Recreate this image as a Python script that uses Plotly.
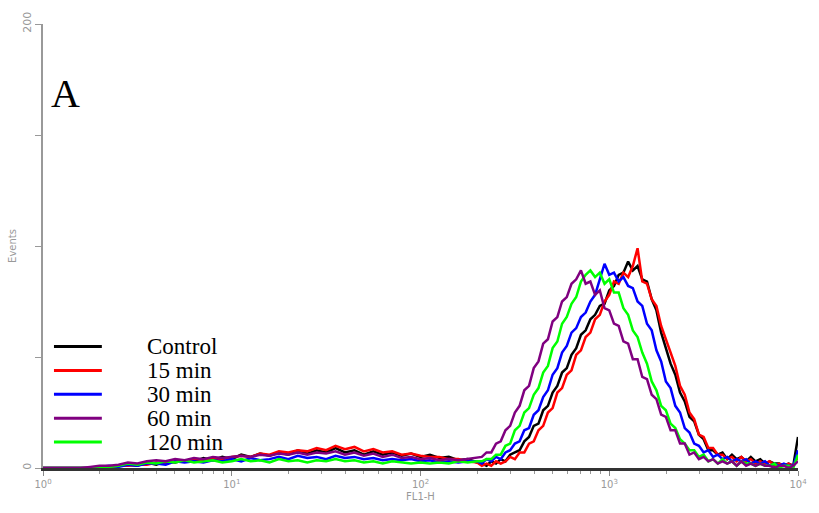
import plotly.graph_objects as go

# ---- bin positions (log10 of fluorescence intensity) ----
log_low = [0.00, 0.05, 0.10, 0.15, 0.20, 0.25, 0.30, 0.35, 0.40, 0.45,
           0.50, 0.55, 0.60, 0.65, 0.70, 0.75, 0.80, 0.85, 0.90, 0.95,
           1.00, 1.05, 1.10, 1.15, 1.20, 1.25, 1.30, 1.35, 1.40, 1.45,
           1.50, 1.55, 1.60, 1.65, 1.70, 1.75, 1.80, 1.85, 1.90, 1.95,
           2.00, 2.05, 2.10, 2.15, 2.20, 2.25, 2.30]
log_peak = [2.325, 2.350, 2.375, 2.400, 2.425, 2.450, 2.475, 2.500, 2.525, 2.550,
            2.575, 2.600, 2.625, 2.650, 2.675, 2.700, 2.725, 2.750, 2.775, 2.800,
            2.825, 2.850, 2.875, 2.900, 2.925, 2.950, 2.975, 3.000, 3.025, 3.050,
            3.075, 3.100, 3.125, 3.150, 3.175, 3.200, 3.225, 3.250, 3.275, 3.300,
            3.325, 3.350, 3.375, 3.400, 3.425, 3.450, 3.475, 3.500, 3.525, 3.550,
            3.575, 3.600, 3.625, 3.650, 3.675, 3.700, 3.725, 3.750, 3.775, 3.800,
            3.825, 3.850, 3.875, 3.900, 3.925, 3.950, 3.975, 4.000]

# ---- event counts per series ----
control_low = [0, 0, 0, 0, 0, 0, 0.5, 0.5, 1, 1.5,
               1, 2.5, 1.5, 3, 2.5, 3.5, 3, 4.5, 3.5, 5,
               4, 6, 5, 6.5, 5.5, 7, 6, 8, 6.5, 8,
               7, 9, 7, 8, 6, 7.5, 6, 7, 5.5, 6.5,
               5, 6, 4.5, 5, 3.5, 4, 2.5]
control_peak = [2, 1, 3, 2, 4, 3, 6, 7, 8, 12,
                14, 19, 20, 26, 28, 34, 37, 43, 45, 51,
                54, 60, 62, 67, 69, 73, 74, 80, 82, 87,
                88, 93, 89, 91, 85, 84, 76, 71, 61, 54,
                47, 42, 34, 30, 23, 21, 15, 13, 8, 8,
                6, 7, 4, 6, 4, 5, 3, 5, 3, 4,
                2, 3, 2, 2, 1, 2, 1,
                14]

m15_low = [0, 0, 0, 0, 0, 0, 0, 0.5, 1, 1,
           1.5, 1.5, 2.5, 2, 3, 3, 4, 3.5, 4.5, 4,
           5, 5.5, 5, 6.5, 6, 7.5, 7, 8, 7.5, 9,
           8, 10, 8.5, 9.5, 7.5, 8.5, 7, 7.5, 6, 6.5,
           5.5, 5, 5, 4, 4, 3, 2.5]
m15_peak = [1, 2, 1, 3, 2, 3, 5, 4, 7, 7,
            11, 12, 17, 19, 25, 27, 34, 36, 42, 44,
            51, 53, 59, 61, 67, 69, 75, 78, 84, 83,
            88, 86, 91, 99, 84, 83, 76, 73, 64, 58,
            51, 46, 37, 33, 25, 22, 15, 14, 9, 9,
            6, 6, 4, 5, 3, 5, 3, 4, 2, 3,
            2, 3, 1, 2, 1, 2, 1,
            5]

m30_low = [0, 0, 0, 0, 0, 0, 0.5, 1, 0.5, 1.5,
           1, 2, 2, 1.5, 3, 2.5, 3, 2.5, 3.5, 3,
           4, 3, 4.5, 3.5, 4, 5, 4, 5.5, 4.5, 5,
           4, 5.5, 4.5, 5, 4, 4.5, 3.5, 4, 3.5, 4,
           3, 3.5, 2.5, 3, 2.5, 3, 3]
m30_peak = [2, 4, 3, 5, 4, 7, 8, 11, 12, 17,
            18, 24, 26, 32, 35, 42, 45, 52, 55, 61,
            63, 68, 70, 75, 78, 85, 92, 87, 88, 84,
            86, 82, 81, 75, 73, 65, 62, 53, 48, 39,
            36, 28, 25, 18, 16, 11, 10, 7, 8, 5,
            6, 4, 5, 3, 4, 3, 4, 2, 3, 2,
            3, 1, 2, 1, 2, 1, 1,
            8]

m60_low = [0, 0, 0, 0, 0, 0.5, 1, 1, 1.5, 2.5,
           2, 3, 3.5, 3, 4, 3.5, 4.5, 4, 5, 4.5,
           5, 5.5, 5, 6, 5.5, 6.5, 6, 7, 6, 7,
           6.5, 7.5, 6, 7, 5.5, 6.5, 5, 6, 4.5, 5,
           4, 4.5, 3.5, 4, 3.5, 4, 4.5]
m60_peak = [5, 7, 7, 11, 12, 17, 19, 25, 28, 35,
            37, 45, 48, 56, 58, 66, 68, 75, 77, 83,
            85, 89, 83, 84, 78, 80, 72, 71, 65, 64,
            57, 56, 49, 49, 41, 40, 33, 31, 24, 23,
            17, 17, 11, 11, 6, 7, 4, 5, 3, 4,
            2, 3, 2, 3, 1, 3, 1, 2, 1, 2,
            1, 1, 0, 1, 1, 0, 1,
            3]

m120_low = [0, 0, 0, 0, 0, 0, 0.5, 0.5, 1, 2,
            1.5, 2.5, 2, 3, 2.5, 3.5, 2.5, 3, 3.5, 2.5,
            3, 4, 3, 3.5, 2.5, 4, 3, 3.5, 2.5, 3.5,
            3, 4, 3, 3.5, 2.5, 3, 2, 3, 2.5, 2,
            2.5, 2, 2.5, 2, 3, 2.5, 3]
m120_peak = [3, 4, 4, 6, 6, 10, 11, 17, 19, 25,
             27, 33, 36, 43, 46, 54, 57, 65, 68, 74,
             77, 84, 87, 89, 86, 88, 83, 85, 79, 79,
             72, 69, 62, 59, 52, 47, 39, 35, 28, 26,
             20, 18, 13, 11, 8, 8, 5, 6, 3, 4,
             2, 4, 2, 3, 1, 3, 2, 2, 1, 2,
             1, 1, 2, 0, 1, 1, 0,
             6]

series_names = ["Control", "15 min", "30 min", "60 min", "120 min"]
series_colors = ["#000000", "#ff0000", "#0000ff", "#800080", "#00ff00"]
series_values = [control_low + control_peak, m15_low + m15_peak,
                 m30_low + m30_peak, m60_low + m60_peak, m120_low + m120_peak]

x_tick_vals = [1, 10, 100, 1000, 10000]
x_tick_text = ["10<sup>0</sup>", "10<sup>1</sup>", "10<sup>2</sup>",
               "10<sup>3</sup>", "10<sup>4</sup>"]
y_tick_vals = [0, 50, 100, 150, 200]
y_tick_text = ["0", "", "", "", "200"]

x_vals = [10 ** v for v in (log_low + log_peak)]

fig = go.Figure()
# draw order: control, 15, 30, 120, 60
order = [0, 1, 2, 4, 3]
for i in order:
    fig.add_trace(go.Scatter(x=x_vals, y=series_values[i], mode="lines",
                             line=dict(color=series_colors[i], width=2.5),
                             name=series_names[i], showlegend=False))

minor_vals = [k * 10 ** d for d in range(4) for k in range(2, 10)]

fig.update_layout(
    width=819, height=513,
    margin=dict(l=43, r=19, t=23, b=44),
    paper_bgcolor="white", plot_bgcolor="white",
    showlegend=False,
    xaxis=dict(type="log", range=[0, 4], showgrid=False, zeroline=False,
               showline=True, linecolor="#333", linewidth=3,
               ticks="outside", ticklen=5, tickcolor="#888", tickwidth=1,
               tickvals=x_tick_vals, ticktext=x_tick_text,
               tickfont=dict(family="DejaVu Sans", size=10, color="#999"),
               minor=dict(ticks="outside", ticklen=3, tickcolor="#999",
                          tickvals=minor_vals),
               title=dict(text="FL1-H", standoff=4,
                          font=dict(family="DejaVu Sans", size=10, color="#999"))),
    yaxis=dict(range=[0, 200], showgrid=False, zeroline=False,
               showline=True, linecolor="#999", linewidth=2,
               ticks="outside", ticklen=6, tickcolor="#999", tickwidth=1,
               tickvals=y_tick_vals, ticktext=y_tick_text, tickangle=-90,
               tickfont=dict(family="DejaVu Sans", size=11, color="#999"),
               title=dict(text="Events", standoff=2,
                          font=dict(family="DejaVu Sans", size=10, color="#999"))),
)

# manual legend (lines + serif labels) and panel letter
legend_rows_px = [347, 371, 395, 419, 443]
plot_left, plot_w, plot_bottom, plot_h = 43, 757, 469, 446
for name, color, ypx in zip(series_names, series_colors, legend_rows_px):
    yp = (plot_bottom - ypx) / plot_h
    fig.add_shape(type="line", xref="paper", yref="paper",
                  x0=(54 - plot_left) / plot_w, x1=(102 - plot_left) / plot_w,
                  y0=yp, y1=yp, line=dict(color=color, width=3))
    fig.add_annotation(xref="paper", yref="paper", x=(145 - plot_left) / plot_w,
                       y=yp, xanchor="left", yanchor="middle", showarrow=False,
                       text=name, font=dict(family="Liberation Serif", size=23,
                                            color="black"))

fig.add_annotation(xref="paper", yref="paper", x=(49 - plot_left) / plot_w,
                   y=(plot_bottom - 93) / plot_h, xanchor="left", yanchor="middle",
                   showarrow=False, text="A",
                   font=dict(family="Liberation Serif", size=40, color="black"))

fig.write_html("out.html")
